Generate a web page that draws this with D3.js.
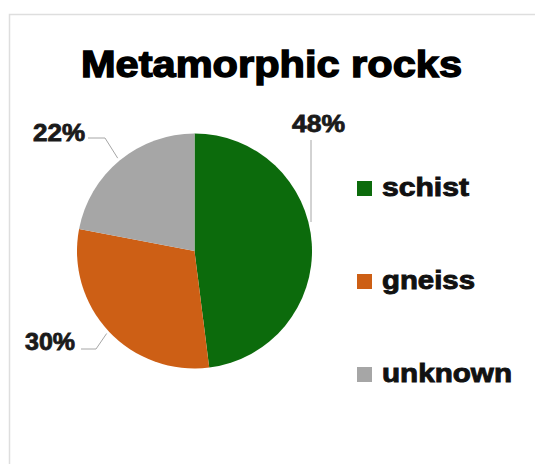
<!DOCTYPE html>
<html>
<head>
<meta charset="utf-8">
<script src="https://cdn.jsdelivr.net/npm/d3@7"></script>
<style>
  html, body { margin: 0; padding: 0; background: #fff; }
  svg { display: block; }
  text { font-family: "Liberation Sans", Arial, sans-serif; font-weight: bold; }
</style>
</head>
<body>
<svg id="chart" width="535" height="464"></svg>
<script>
// ---- data ----
const title = "Metamorphic rocks";
const categories = ["schist", "gneiss", "unknown"];
const values = [48, 30, 22];
const percentLabels = ["48%", "30%", "22%"];
const colors = ["#0c6b0c", "#cd5f15", "#a6a6a6"];

// ---- layout ----
const W = 535, H = 464;
const cx = 194.5, cy = 251, R = 117.5;
const svg = d3.select("#chart");

// chart area border (extends beyond right/bottom)
svg.append("rect")
  .attr("x", 9.5).attr("y", 14.5)
  .attr("width", W + 10).attr("height", H + 10)
  .attr("fill", "#fff").attr("stroke", "#dedede").attr("stroke-width", 1.5);

// title
svg.append("text")
  .attr("x", 81).attr("y", 77)
  .attr("font-size", 37)
  .attr("fill", "#000").attr("stroke", "#000").attr("stroke-width", 1.4)
  .attr("textLength", 381).attr("lengthAdjust", "spacingAndGlyphs")
  .text(title);

// pie
const pie = d3.pie().sort(null).value(d => d.v);
const arcs = pie(categories.map((c, i) => ({ c, v: values[i], i })));
const arc = d3.arc().innerRadius(0).outerRadius(R);
const g = svg.append("g").attr("transform", `translate(${cx},${cy})`);
g.selectAll("path").data(arcs).enter().append("path")
  .attr("d", arc)
  .attr("fill", d => colors[d.data.i]);

// leader lines + labels (per-slice label placement)
const labelLayout = [
  { tx: 292, ty: 132, tw: 53, path: (p) => [[311, 140], [311, 222]] },
  { tx: 25, ty: 350, tw: 50, path: (p) => [[81, 349], [96, 349], p] },
  { tx: 33, ty: 141, tw: 52, path: (p) => [[88, 138], [105, 138], p] }
];
const outerPt = d3.arc().innerRadius(R + 3).outerRadius(R + 3);
arcs.forEach((d, i) => {
  const c = outerPt.centroid(d);
  const p = [cx + c[0], cy + c[1]];
  const L = labelLayout[i];
  svg.append("path")
    .attr("d", d3.line()(L.path(p)))
    .attr("fill", "none").attr("stroke", "#a6a6a6").attr("stroke-width", 1);
  svg.append("text")
    .attr("x", L.tx).attr("y", L.ty)
    .attr("font-size", 23).attr("fill", "#1a1a1a")
    .attr("stroke", "#1a1a1a").attr("stroke-width", 0.8)
    .attr("textLength", L.tw).attr("lengthAdjust", "spacingAndGlyphs")
    .text(percentLabels[i]);
});

// legend
const legendY = d3.scalePoint().domain(categories).range([196, 382]);
const legendW = [87, 93, 130];
const lg = svg.append("g");
categories.forEach((c, i) => {
  const y = legendY(c);
  lg.append("rect")
    .attr("x", 357).attr("y", y - 15)
    .attr("width", 15).attr("height", 15)
    .attr("fill", colors[i]);
  lg.append("text")
    .attr("x", 382).attr("y", y)
    .attr("font-size", 25).attr("fill", "#111")
    .attr("stroke", "#111").attr("stroke-width", 0.9)
    .attr("textLength", legendW[i]).attr("lengthAdjust", "spacingAndGlyphs")
    .text(c);
});
</script>
</body>
</html>
